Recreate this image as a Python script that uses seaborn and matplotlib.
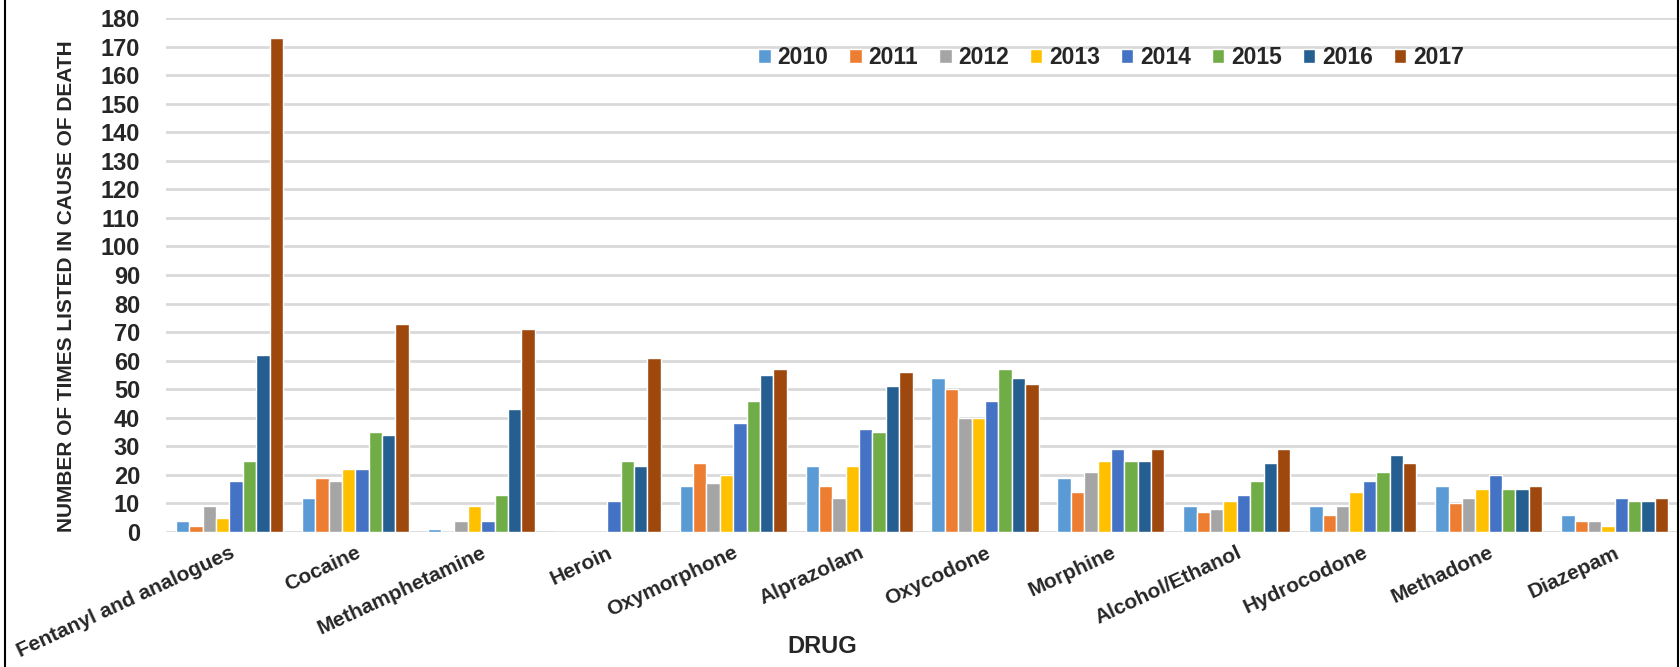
import numpy as np
import pandas as pd
import seaborn as sns
import matplotlib.pyplot as plt
from matplotlib.lines import Line2D

drugs = ["Fentanyl and analogues", "Cocaine", "Methamphetamine", "Heroin",
         "Oxymorphone", "Alprazolam", "Oxycodone", "Morphine",
         "Alcohol/Ethanol", "Hydrocodone", "Methadone", "Diazepam"]
years = ["2010", "2011", "2012", "2013", "2014", "2015", "2016", "2017"]

v2010 = [4, 12, 1, 0, 16, 23, 54, 19, 9, 9, 16, 6]
v2011 = [2, 19, 0, 0, 24, 16, 50, 14, 7, 6, 10, 4]
v2012 = [9, 18, 4, 0, 17, 12, 40, 21, 8, 9, 12, 4]
v2013 = [5, 22, 9, 0, 20, 23, 40, 25, 11, 14, 15, 2]
v2014 = [18, 22, 4, 11, 38, 36, 46, 29, 13, 18, 20, 12]
v2015 = [25, 35, 13, 25, 46, 35, 57, 25, 18, 21, 15, 11]
v2016 = [62, 34, 43, 23, 55, 51, 54, 25, 24, 27, 15, 11]
v2017 = [173, 73, 71, 61, 57, 56, 52, 29, 29, 24, 16, 12]

colors = ["#5B9BD5", "#ED7D31", "#A5A5A5", "#FFC000",
          "#4472C4", "#70AD47", "#255E91", "#9E480E"]

series = [v2010, v2011, v2012, v2013, v2014, v2015, v2016, v2017]
df = pd.DataFrame(
    [(d, y, v) for y, vals in zip(years, series) for d, v in zip(drugs, vals)],
    columns=["Drug", "Year", "Count"],
)

sns.set_theme(style="white")
plt.rcParams["font.family"] = ["Liberation Sans", "DejaVu Sans"]
plt.rcParams["font.weight"] = "bold"

fig = plt.figure(figsize=(16.81, 6.67), dpi=100)
ax = fig.add_axes([0.099, 0.2024, 0.899, 0.7706])

sns.barplot(data=df, x="Drug", y="Count", hue="Year", order=drugs,
            hue_order=years, palette=colors, saturation=1, width=0.85,
            edgecolor="white", linewidth=1, errorbar=None, ax=ax)

ax.set_ylim(0, 180)
ax.set_xlim(-0.5, len(drugs) - 0.5)
ax.set_yticks(np.arange(0, 181, 10))
ax.yaxis.grid(True, color="#d9d9d9", linewidth=2)
ax.set_axisbelow(True)
for s in ax.spines.values():
    s.set_visible(False)

ax.tick_params(axis="both", length=0)
ax.tick_params(axis="y", pad=19, labelsize=17)
for lab in ax.get_yticklabels():
    lab.set_fontweight("bold")

ax.set_xticks(range(len(drugs)))
ax.set_xticklabels(drugs, rotation=25, ha="right", va="top",
                   rotation_mode="anchor", fontsize=15, fontweight="bold")
ax.tick_params(axis="x", pad=8)

ax.set_ylabel("NUMBER OF TIMES LISTED IN CAUSE OF DEATH", fontsize=15,
              fontweight="bold", va="center")
ax.yaxis.set_label_coords(-0.0662, 0.479)
ax.set_xlabel("DRUG", fontsize=17, fontweight="bold")
ax.xaxis.set_label_coords(0.434, -0.2)

handles, labels = ax.get_legend_handles_labels()
ax.legend(handles, labels, ncol=8, frameon=False, loc="center",
          bbox_to_anchor=(0.661, 0.914), bbox_transform=fig.transFigure,
          handlelength=0.55, handleheight=0.55, handletextpad=0.3,
          columnspacing=0.9, prop={"weight": "bold", "size": 16.5})

fig.add_artist(Line2D([0.003, 0.003], [0, 1], color="black", lw=1.5,
                      transform=fig.transFigure))
fig.add_artist(Line2D([0.998, 0.998], [0, 1], color="black", lw=1.5,
                      transform=fig.transFigure))

fig.savefig("out.png", dpi=100)
